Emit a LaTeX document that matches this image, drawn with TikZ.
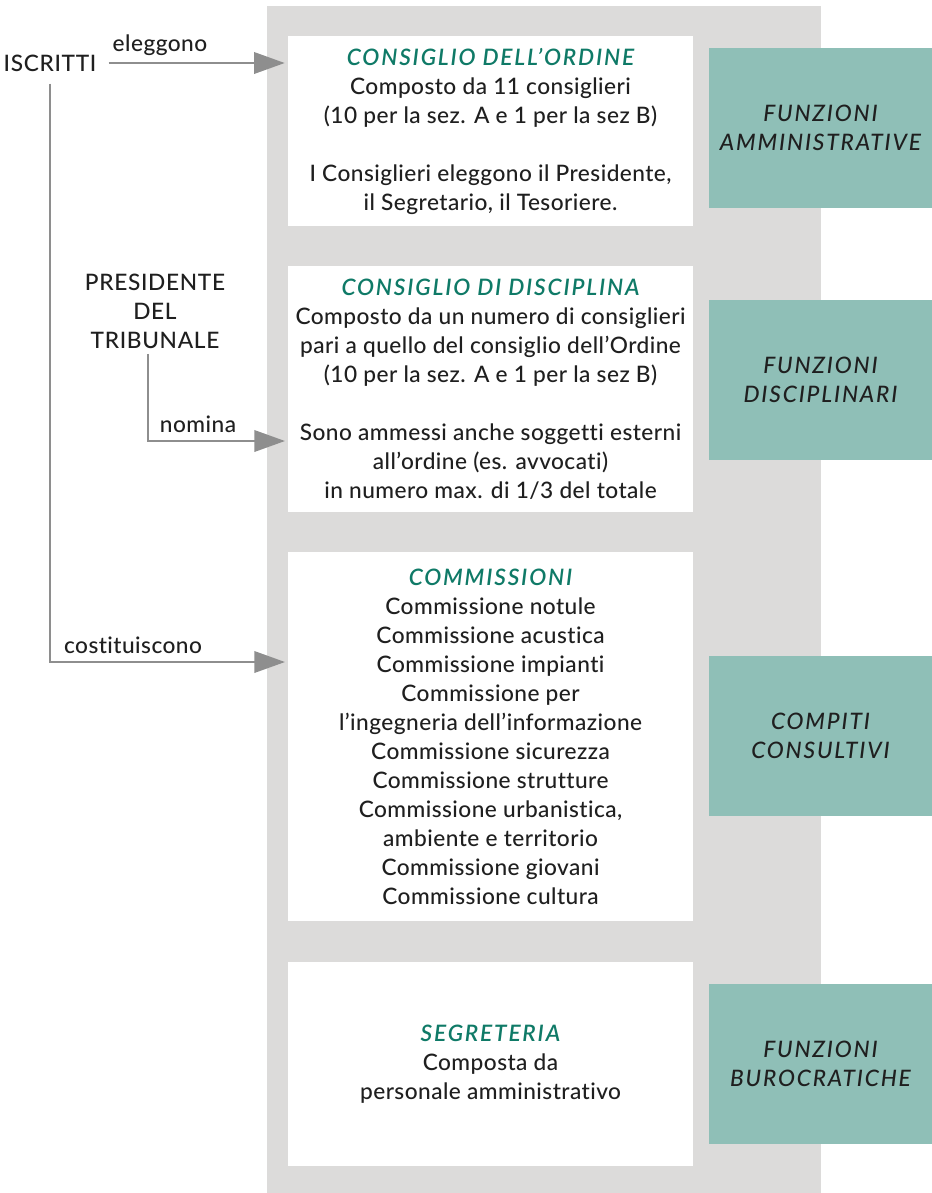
\documentclass[tikz,border=0pt]{standalone}
\usepackage{fontspec}
\setmainfont{Lato}[UprightFont=* Medium, ItalicFont=* Medium Italic, BoldFont=* Semibold, BoldItalicFont=* Semibold Italic, Ligatures={TeX,NoCommon}]
\usetikzlibrary{arrows.meta}

\definecolor{panelgray}{HTML}{DCDBDA}
\definecolor{tealfill}{HTML}{8FBFB7}
\definecolor{titlegreen}{HTML}{0F7A67}
\definecolor{linkgray}{HTML}{8E8E8E}
\definecolor{ink}{HTML}{1F1F1F}

\newcommand{\boxtitle}[1]{{\color{titlegreen}\bfseries\itshape\addfontfeature{LetterSpace=8}#1}}

\tikzset{
  whitebox/.style={fill=white, minimum width=303.75pt, inner sep=0pt, align=center, text=ink, font=\fontsize{17}{21.75}\selectfont\addfontfeature{LetterSpace=2}},
  tealbox/.style={fill=tealfill, minimum width=167.25pt, minimum height=120pt, inner sep=0pt, align=center, text=ink, font=\fontsize{17}{21.75}\selectfont\itshape\addfontfeature{LetterSpace=8}},
  actor/.style={inner sep=0pt, align=center, text=ink, font=\fontsize{17}{21.75}\selectfont\addfontfeature{LetterSpace=3}},
  linklabel/.style={inner sep=0pt, text=ink, font=\fontsize{17}{21.75}\selectfont\addfontfeature{LetterSpace=2}},
  link/.style={draw=linkgray, line width=1.9pt, -{Triangle[length=23pt, width=16pt]}}
}

\begin{document}
\begin{tikzpicture}[x=0.75pt, y=-0.75pt]
\useasboundingbox (0,0) rectangle (932,1193);
\fill[panelgray] (267,6) rectangle (821,1193);

\node[whitebox, minimum height=142.5pt] (ordine) at (490.5,131) {\boxtitle{CONSIGLIO DELL’ORDINE}\\
  Composto da 11 consiglieri\\
  (10 per la sez. A e 1 per la sez B)\\[21.75pt]
  I Consiglieri eleggono il Presidente,\\
  il Segretario, il Tesoriere.};
\node[whitebox, minimum height=184.5pt] (discip) at (490.5,389) {\boxtitle{CONSIGLIO DI DISCIPLINA}\\
  Composto da un numero di consiglieri\\
  pari a quello del consiglio dell’Ordine\\
  (10 per la sez. A e 1 per la sez B)\\[21.75pt]
  Sono ammessi anche soggetti esterni\\
  all’ordine (es. avvocati)\\
  in numero max. di 1/3 del totale};
\node[whitebox, minimum height=276.75pt] (commiss) at (490.5,736.5) {\boxtitle{COMMISSIONI}\\
  Commissione notule\\
  Commissione acustica\\
  Commissione impianti\\
  Commissione per\\
  l’ingegneria dell’informazione\\
  Commissione sicurezza\\
  Commissione strutture\\
  Commissione urbanistica,\\
  ambiente e territorio\\
  Commissione giovani\\
  Commissione cultura};
\node[whitebox, minimum height=153pt] (segret) at (490.5,1064) {\boxtitle{SEGRETERIA}\\
  Composta da\\
  personale amministrativo};

\node[tealbox] (fAmm) at (820.5,128) {FUNZIONI\\AMMINISTRATIVE};
\node[tealbox] (fDisc) at (820.5,380) {FUNZIONI\\DISCIPLINARI};
\node[tealbox] (fCons) at (820.5,736) {COMPITI\\CONSULTIVI};
\node[tealbox] (fBuro) at (820.5,1064) {FUNZIONI\\BUROCRATICHE};

\node[actor] (iscr) at (50,63) {ISCRITTI};
\node[actor] (pres) at (155,311) {PRESIDENTE\\DEL\\TRIBUNALE};

\coordinate (nomiEnd) at (288,441);
\coordinate (costEnd) at (288,662);

\draw[link, shorten <=9pt, shorten >=2.25pt] (iscr.east) -- (iscr.east -| ordine.west);
\draw[link, shorten <=9pt, shorten >=2.25pt] (iscr.south) |- (costEnd);
\draw[link, shorten <=4pt, shorten >=2.25pt] ([xshift=-5.25pt]pres.south) |- (nomiEnd);

\node[linklabel] (lElegg) at (160,45) {eleggono};
\node[linklabel] (lNomina) at (198,424) {nomina};
\node[linklabel] (lCost) at (133,645) {costituiscono};
\end{tikzpicture}
\end{document}
